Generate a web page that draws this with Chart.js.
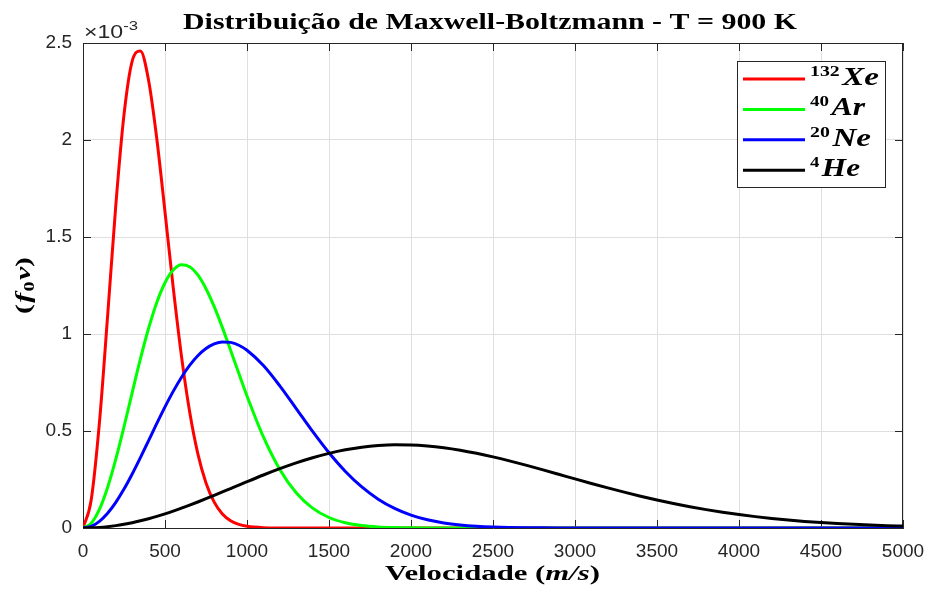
<!DOCTYPE html>
<html lang="pt">
<head>
<meta charset="utf-8">
<title>Distribuição de Maxwell-Boltzmann</title>
<script src="https://cdn.jsdelivr.net/npm/chart.js@4.4.1/dist/chart.umd.min.js"></script>
<style>
  html, body { margin: 0; padding: 0; background: #fff; }
  canvas { display: block; }
</style>
</head>
<body>
<canvas id="maxwellChart" width="930" height="592"></canvas>
<script>
// velocidade em m/s; f0(v) em unidades de 1e-3 (ver "x10^-3" no eixo)
const velocidades = [
  0, 50, 100, 150, 200, 250, 300, 350, 400, 450, 500, 550, 600, 650, 700, 750, 800, 850, 900, 950, 1000,
  1100, 1200, 1300, 1400, 1500, 1600, 1700, 1800, 1900, 2000,
  2100, 2200, 2300, 2400, 2500, 2600, 2700, 2800, 2900, 3000,
  3100, 3200, 3300, 3400, 3500, 3600, 3700, 3800, 3900, 4000,
  4100, 4200, 4300, 4400, 4500, 4600, 4700, 4800, 4900, 5000
];

const xenonio = [
  0, 0.1447, 0.5418, 1.0917, 1.6631, 2.1305, 2.4068, 2.4589, 2.3068, 2.0063, 1.6287, 1.2399, 0.8884, 0.6004, 0.3837, 0.2324, 0.1335, 0.0727, 0.0376, 0.0185, 0.0087,
  0.0016, 0.0003, 0, 0, 0, 0, 0, 0, 0, 0,
  0, 0, 0, 0, 0, 0, 0, 0, 0, 0,
  0, 0, 0, 0, 0, 0, 0, 0, 0, 0,
  0, 0, 0, 0, 0, 0, 0, 0, 0, 0
];

const argonio = [
  0, 0.0245, 0.0961, 0.2091, 0.3547, 0.5219, 0.6983, 0.8713, 1.0295, 1.1629, 1.2644, 1.3295, 1.3567, 1.3471, 1.3044, 1.2335, 1.1408, 1.0328, 0.9163, 0.7973, 0.6806,
  0.4696, 0.3021, 0.1817, 0.1024, 0.0541, 0.0269, 0.0125, 0.0055, 0.0023, 0.0009,
  0.0003, 0.0001, 0, 0, 0, 0, 0, 0, 0, 0,
  0, 0, 0, 0, 0, 0, 0, 0, 0, 0,
  0, 0, 0, 0, 0, 0, 0, 0, 0, 0
];

const neonio = [
  0, 0.0087, 0.0344, 0.0762, 0.1323, 0.2005, 0.2783, 0.3627, 0.4506, 0.5388, 0.6243, 0.7042, 0.7760, 0.8378, 0.8878, 0.9250, 0.9488, 0.9593, 0.9568, 0.9421, 0.9163,
  0.8373, 0.7327, 0.6156, 0.4977, 0.3877, 0.2915, 0.2117, 0.1486, 0.1010, 0.0664,
  0.0423, 0.0262, 0.0157, 0.0091, 0.0051, 0.0028, 0.0015, 0.0008, 0.0004, 0.0002,
  0.0001, 0, 0, 0, 0, 0, 0, 0, 0, 0,
  0, 0, 0, 0, 0, 0, 0, 0, 0, 0
];

const helio = [
  0, 0.0008, 0.0031, 0.0070, 0.0123, 0.0192, 0.0274, 0.0370, 0.0478, 0.0599, 0.0730, 0.0871, 0.1020, 0.1178, 0.1341, 0.1510, 0.1683, 0.1858, 0.2035, 0.2212, 0.2388,
  0.2732, 0.3057, 0.3356, 0.3621, 0.3847, 0.4029, 0.4164, 0.4251, 0.4290, 0.4283,
  0.4232, 0.4140, 0.4012, 0.3852, 0.3667, 0.3461, 0.3239, 0.3007, 0.2770, 0.2531,
  0.2296, 0.2067, 0.1847, 0.1640, 0.1445, 0.1265, 0.1099, 0.0948, 0.0813, 0.0693,
  0.0586, 0.0492, 0.0411, 0.0341, 0.0281, 0.0230, 0.0188, 0.0152, 0.0122, 0.0098
];

const ticksX = [0, 500, 1000, 1500, 2000, 2500, 3000, 3500, 4000, 4500, 5000];
const ticksY = [0, 0.5, 1, 1.5, 2, 2.5];

// legenda: número de massa, símbolo, cor
const legendaMassa = ["132", "40", "20", "4"];
const legendaSimbolo = ["Xe", "Ar", "Ne", "He"];
const legendaLargura = [69, 55, 61, 50];
const cores = ["#ff0000", "#00ff00", "#0000ff", "#000000"];

const SERIF = '"Liberation Serif", "DejaVu Serif", serif';
const SANS = '"Liberation Sans", Arial, sans-serif';
const AXIS_COLOR = "#262626";

// desenha um texto composto de partes com fontes diferentes;
// se "width" for dado, estica horizontalmente até essa largura
function drawRich(ctx, parts, x, y, align, width) {
  let total = 0;
  parts.forEach((p) => {
    ctx.font = p.font;
    p.w = ctx.measureText(p.text).width;
    total += p.w + (p.gap || 0);
  });
  const sx = width ? width / total : 1;
  ctx.save();
  ctx.translate(x, y);
  ctx.scale(sx, 1);
  let cx = align === "center" ? -total / 2 : 0;
  ctx.textBaseline = "alphabetic";
  ctx.textAlign = "left";
  parts.forEach((p) => {
    ctx.font = p.font;
    ctx.fillText(p.text, cx, p.dy || 0);
    cx += p.w + (p.gap || 0);
  });
  ctx.restore();
}

// caixa fechada e marcas de escala para dentro nos quatro lados
const caixaPlugin = {
  id: "caixa",
  beforeDatasetsDraw(chart) {
    const { ctx, chartArea: a, scales } = chart;
    ctx.save();
    ctx.strokeStyle = AXIS_COLOR;
    ctx.lineWidth = 1;
    ctx.beginPath();
    ctx.moveTo(a.left, a.top + 0.5);
    ctx.lineTo(a.right, a.top + 0.5);
    ctx.moveTo(a.right - 0.5, a.top);
    ctx.lineTo(a.right - 0.5, a.bottom);
    ticksX.forEach((v) => {
      const px = Math.round(scales.x.getPixelForValue(v)) + 0.5;
      ctx.moveTo(px, a.bottom);
      ctx.lineTo(px, a.bottom - 8);
      ctx.moveTo(px, a.top);
      ctx.lineTo(px, a.top + 8);
    });
    ticksY.forEach((v) => {
      const py = Math.round(scales.y.getPixelForValue(v)) + 0.5;
      ctx.moveTo(a.left, py);
      ctx.lineTo(a.left + 8, py);
      ctx.moveTo(a.right, py);
      ctx.lineTo(a.right - 8, py);
    });
    ctx.stroke();
    ctx.restore();
  },
};

// títulos, expoente do eixo y e legenda
const textosPlugin = {
  id: "textos",
  afterDraw(chart) {
    const { ctx, chartArea: a } = chart;
    ctx.save();
    ctx.fillStyle = "#000";

    drawRich(ctx, [
      { text: "Distribuição de Maxwell-Boltzmann - T = 900 K", font: "bold 24px " + SERIF },
    ], 183, 29, "left", 614);

    drawRich(ctx, [
      { text: "Velocidade ", font: "bold 21px " + SERIF },
      { text: "(", font: "bold 21px " + SERIF },
      { text: "m/s", font: "italic bold 21px " + SERIF },
      { text: ")", font: "bold 21px " + SERIF },
    ], 385, 580, "left", 215);

    ctx.save();
    ctx.translate(30, (a.top + a.bottom) / 2);
    ctx.rotate(-Math.PI / 2);
    drawRich(ctx, [
      { text: "(", font: "bold 22px " + SERIF, gap: 1 },
      { text: "f", font: "italic bold 22px " + SERIF, gap: 1 },
      { text: "0", font: "bold 15px " + SERIF, dy: 4, gap: 1 },
      { text: "v", font: "italic bold 22px " + SERIF },
      { text: ")", font: "bold 22px " + SERIF },
    ], 0, 0, "center", 57);
    ctx.restore();

    ctx.fillStyle = AXIS_COLOR;
    drawRich(ctx, [
      { text: "\u00d710", font: "18px " + SANS },
      { text: "-3", font: "13px " + SANS, dy: -8 },
    ], a.left + 1, a.top - 5, "left", 54);

    // legenda
    const lx = 737.5, ly = 61.5, lw = 148, lh = 126;
    ctx.fillStyle = "#fff";
    ctx.fillRect(lx, ly, lw, lh);
    ctx.strokeStyle = AXIS_COLOR;
    ctx.lineWidth = 1;
    ctx.strokeRect(lx, ly, lw, lh);
    legendaSimbolo.forEach((simbolo, i) => {
      const yl = 79 + i * 30.4;
      ctx.strokeStyle = cores[i];
      ctx.lineWidth = 3;
      ctx.beginPath();
      ctx.moveTo(743, yl);
      ctx.lineTo(805, yl);
      ctx.stroke();
      ctx.fillStyle = "#000";
      drawRich(ctx, [
        { text: legendaMassa[i], font: "bold 15px " + SERIF, dy: -9, gap: 2 },
        { text: simbolo, font: "italic bold 25px " + SERIF },
      ], 810, yl + 6, "left", legendaLargura[i]);
    });
    ctx.restore();
  },
};

const conjuntos = [xenonio, argonio, neonio, helio];

new Chart(document.getElementById("maxwellChart"), {
  type: "line",
  data: {
    labels: velocidades,
    datasets: conjuntos.map((serie, i) => ({
      label: legendaSimbolo[i],
      data: serie.map((f, k) => ({ x: velocidades[k], y: f })),
      borderColor: cores[i],
      borderWidth: 3,
      pointRadius: 0,
      fill: false,
      cubicInterpolationMode: "monotone",
      order: 3 - i,
    })),
  },
  options: {
    responsive: false,
    animation: false,
    devicePixelRatio: 1,
    layout: { padding: { left: 0, top: 43, right: 27, bottom: 0 } },
    plugins: {
      legend: { display: false },
      tooltip: { enabled: false },
      title: { display: false },
    },
    scales: {
      x: {
        type: "linear",
        min: 0,
        max: 5000,
        afterBuildTicks: (scale) => { scale.ticks = ticksX.map((v) => ({ value: v })); },
        afterFit: (scale) => {
          scale.height = 64;
          scale.paddingLeft = 0;
          scale.paddingRight = 0;
        },
        grid: { color: "#dfdfdf", drawTicks: false },
        border: { color: AXIS_COLOR, width: 1 },
        ticks: {
          padding: 12,
          color: AXIS_COLOR,
          font: { family: SANS, size: 19 },
          maxRotation: 0,
          autoSkip: false,
          callback: (v) => String(v),
        },
      },
      y: {
        type: "linear",
        min: 0,
        max: 2.5,
        afterBuildTicks: (scale) => { scale.ticks = ticksY.map((v) => ({ value: v })); },
        afterFit: (scale) => {
          scale.width = 83;
          scale.paddingTop = 0;
          scale.paddingBottom = 0;
        },
        grid: { color: "#dfdfdf", drawTicks: false },
        border: { color: AXIS_COLOR, width: 1 },
        ticks: {
          padding: 11,
          color: AXIS_COLOR,
          font: { family: SANS, size: 19 },
          callback: (v) => String(v),
        },
      },
    },
  },
  plugins: [caixaPlugin, textosPlugin],
});
</script>
</body>
</html>
